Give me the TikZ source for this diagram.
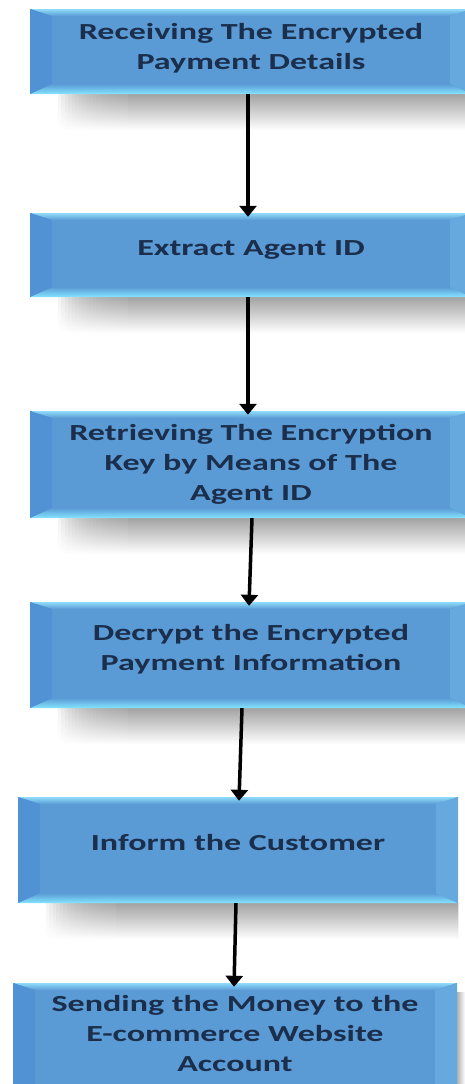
\documentclass[tikz,border=0pt]{standalone}
\usepackage{fontspec}
\usepackage{graphicx}
\setmainfont{Carlito}
\usetikzlibrary{arrows.meta,backgrounds}

\definecolor{boxblue}{HTML}{5B9BD5}
\definecolor{beveltop}{HTML}{8FDCFA}
\definecolor{bevelbottom}{HTML}{84E4FF}
\definecolor{bevelleft}{HTML}{5092D4}
\definecolor{bevelright}{HTML}{66A9DE}
\definecolor{inkblue}{HTML}{1B2E4B}

% label: shifted up inside its own extent, stretched sideways
\newcommand\steplabel[2]{\raisebox{#1}[\height][\depth]{\scalebox{1.48}[1]{\begin{tabular}{@{}c@{}}#2\end{tabular}}}}

\tikzset{
  stepbox/.style={
    fill=boxblue, inner sep=0pt, text=inkblue, align=center,
    font=\bfseries\fontsize{23}{30}\selectfont,
    path picture={
      \coordinate (bNW) at (path picture bounding box.north west);
      \coordinate (bNE) at (path picture bounding box.north east);
      \coordinate (bSW) at (path picture bounding box.south west);
      \coordinate (bSE) at (path picture bounding box.south east);
      % bevelled rim
      \shade[top color=beveltop, bottom color=boxblue]
        (bNW) -- (bNE) -- ([shift={(-22pt,-7pt)}]bNE) -- ([shift={(22pt,-7pt)}]bNW) -- cycle;
      \shade[top color=boxblue, bottom color=bevelbottom]
        (bSW) -- (bSE) -- ([shift={(-22pt,10pt)}]bSE) -- ([shift={(22pt,10pt)}]bSW) -- cycle;
      \fill[bevelleft]
        (bNW) -- ([shift={(22pt,-7pt)}]bNW) -- ([shift={(22pt,10pt)}]bSW) -- (bSW) -- cycle;
      \fill[bevelright]
        (bNE) -- ([shift={(-22pt,-7pt)}]bNE) -- ([shift={(-22pt,10pt)}]bSE) -- (bSE) -- cycle;
    }
  },
  dropshadow/.style={top color=black!36, bottom color=white},
  flow/.style={line width=3.5pt, -{Triangle[width=17pt,length=11pt]}},
}

\begin{document}
\begin{tikzpicture}[x=1pt, y=-1pt]
  \useasboundingbox (0,0) rectangle (465,1084);
  \clip (0,0) rectangle (465,1084);

  \node[stepbox, minimum width=442pt, minimum height=85pt] (b1) at (251,51.5)
    {\steplabel{3.5pt}{Receiving The Encrypted\\Payment Details}};
  \node[stepbox, minimum width=442pt, minimum height=84pt] (b2) at (251,255)
    {\steplabel{6pt}{Extract Agent ID}};
  \node[stepbox, minimum width=442pt, minimum height=107pt] (b3) at (251,464.5)
    {\steplabel{0.5pt}{Retrieving The Encryption\\Key by Means of The\\Agent ID}};
  \node[stepbox, minimum width=442pt, minimum height=106pt] (b4) at (251,655)
    {\steplabel{5.5pt}{Decrypt the Encrypted\\Payment Information}};
  \node[stepbox, minimum width=440pt, minimum height=106pt] (b5) at (238,850)
    {\steplabel{6pt}{Inform the Customer}};
  \node[stepbox, minimum width=444pt, minimum height=112pt] (b6) at (235,1039)
    {\steplabel{4pt}{Sending the Money to the\\E-commerce Website\\Account}};

  % drop shadows under the boxes: faint layers stacked from the left
  % build up the soft start, then one opaque band
  \begin{scope}[on background layer]
    \foreach \b in {b1,b2,b3,b4,b5} {
      \foreach \i in {0,...,19} {
        \shade[dropshadow, opacity=0.13]
          ([xshift={(28+3.5*\i)*1pt}]\b.south west) rectangle ([yshift=-36pt]\b.south east);
      }
      \shade[dropshadow]
        ([xshift=98pt]\b.south west) rectangle ([yshift=-36pt]\b.south east);
    }
    \shade[left color=black!30, right color=white] ([yshift=-10pt]b6.north east) rectangle (465,1084);
  \end{scope}

  % connectors
  \draw[flow] ([xshift=-3pt]b1.south) -- ([xshift=-3pt,yshift=-4pt]b2.north);
  \draw[flow] ([xshift=-3pt]b2.south) -- ([xshift=-3pt,yshift=-4pt]b3.north);
  \draw[flow] ([xshift=1pt]b3.south) -- ([xshift=-2pt,yshift=-4pt]b4.north);
  \draw[flow] ([xshift=-9pt]b4.south) -- ([xshift=1pt,yshift=-4pt]b5.north);
  \draw[flow] ([xshift=-2pt]b5.south) -- ([xshift=-1pt,yshift=-4pt]b6.north);
\end{tikzpicture}
\end{document}
